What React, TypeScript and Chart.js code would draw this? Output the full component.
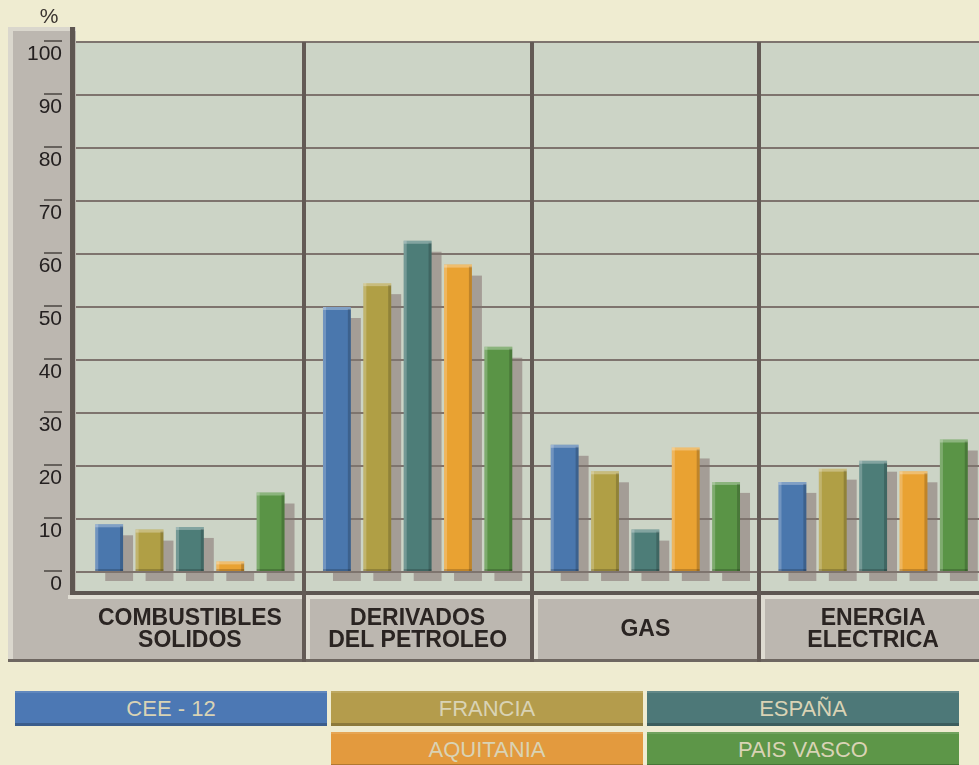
import React, { useEffect, useRef } from 'react';
import { Chart, registerables } from 'chart.js';

Chart.register(...registerables);

// ---------- data ----------
const CATEGORIES: string[][] = [
  ['COMBUSTIBLES', 'SOLIDOS'],
  ['DERIVADOS', 'DEL PETROLEO'],
  ['GAS'],
  ['ENERGIA', 'ELECTRICA'],
];
const SERIES_NAMES = ['CEE - 12', 'FRANCIA', 'ESPAÑA', 'AQUITANIA', 'PAIS VASCO'];
const CEE12 = [9, 50, 24, 17];
const FRANCIA = [8, 54.5, 19, 19.5];
const ESPANA = [8.5, 62.5, 8, 21];
const AQUITANIA = [2, 58, 23.5, 19];
const PAIS_VASCO = [15, 42.5, 17, 25];
const Y_MIN = 0;
const Y_MAX = 100;
const Y_STEP = 10;
const Y_UNIT = '%';

// ---------- styles ----------
const BAR_COLORS = ['#4a77ad', '#b09f45', '#4d7d78', '#e9a232', '#5a9446'];
const LEGEND_COLORS = ['#4c78b4', '#b49c4c', '#4d7878', '#e39a3e', '#5d9648'];
const FONT = "'Liberation Sans', Arial, sans-serif";

const panelPlugin = {
  id: 'panelPlugin',
  beforeDraw(chart: any) {
    const { ctx, chartArea: ca, scales } = chart;
    const y = scales.y;
    const base = y.getPixelForValue(0);
    const stripBottom = base + 20;
    const PB = 662;
    ctx.save();
    // gray left column and bottom band
    ctx.fillStyle = '#bcb7b0';
    ctx.fillRect(8, 27, ca.left - 8, PB - 27);
    ctx.fillRect(8, stripBottom + 3, ca.right - 8, PB - stripBottom - 3);
    // column highlights
    ctx.fillStyle = '#dad7cd';
    ctx.fillRect(8, 27, ca.left - 8, 4);
    ctx.fillRect(8, 27, 5, PB - 27);
    // plot background
    ctx.fillStyle = '#ccd4c6';
    ctx.fillRect(ca.left, ca.top, ca.right - ca.left, stripBottom - ca.top);
    // frame lines
    ctx.fillStyle = '#5e5651';
    ctx.fillRect(ca.left - 6, 27, 5, stripBottom + 3 - 27);
    ctx.fillRect(ca.left - 6, stripBottom - 1, ca.right - ca.left + 6, 4);
    // top bevel of label boxes
    ctx.fillStyle = '#e0ddd3';
    ctx.fillRect(ca.left - 8, stripBottom + 3, ca.right - ca.left + 8, 4);
    // bottom dark edge
    ctx.fillStyle = '#6e6761';
    ctx.fillRect(8, PB - 3, ca.right - 8, 3);

    // bar shadows
    ctx.fillStyle = '#a49d96';
    chart.data.datasets.forEach((_: any, di: number) => {
      const meta = chart.getDatasetMeta(di);
      meta.data.forEach((bar: any) => {
        const w = bar.width;
        const l = bar.x - w / 2 + 10;
        const t = Math.min(bar.y + 11, bar.base);
        ctx.fillRect(l, t, w, bar.base + 10 - t);
      });
    });
    ctx.restore();
  },
  afterDatasetsDraw(chart: any) {
    const { ctx, chartArea: ca, scales } = chart;
    const x = scales.x;
    const y = scales.y;
    const base = y.getPixelForValue(0);
    const stripBottom = base + 20;
    const PB = 662;
    ctx.save();
    // bar bevels
    chart.data.datasets.forEach((_: any, di: number) => {
      const meta = chart.getDatasetMeta(di);
      meta.data.forEach((bar: any) => {
        const w = bar.width;
        const l = bar.x - w / 2;
        const h = bar.base - bar.y;
        ctx.fillStyle = 'rgba(255,255,255,0.22)';
        ctx.fillRect(l, bar.y, 3, h);
        ctx.fillStyle = 'rgba(255,255,255,0.3)';
        ctx.fillRect(l, bar.y, w, Math.min(3, h));
        ctx.fillStyle = 'rgba(0,0,0,0.18)';
        ctx.fillRect(l + w - 3, bar.y + 2, 3, h - 2);
        ctx.fillRect(l, bar.base - 2, w, 2);
      });
    });
    // dividers
    const n = chart.data.labels.length;
    const half = (x.getPixelForValue(1) - x.getPixelForValue(0)) / 2;
    for (let i = 0; i < n - 1; i++) {
      const xd = Math.round(x.getPixelForValue(i) + half);
      ctx.fillStyle = '#635a55';
      ctx.fillRect(xd - 2, ca.top, 4, PB - ca.top);
      ctx.fillStyle = '#dedbd1';
      ctx.fillRect(xd + 2, stripBottom + 3, 4, PB - stripBottom - 6);
    }
    ctx.restore();
  },
  afterDraw(chart: any) {
    const { ctx, scales } = chart;
    const x = scales.x;
    const y = scales.y;
    const base = y.getPixelForValue(0);
    const stripBottom = base + 20;
    const PB = 662;
    ctx.save();
    // overlines on y ticks
    ctx.strokeStyle = '#4a4440';
    ctx.lineWidth = 1.5;
    y.ticks.forEach((t: any) => {
      const py = y.getPixelForValue(t.value) - 1;
      ctx.beginPath();
      ctx.moveTo(44, py);
      ctx.lineTo(62, py);
      ctx.stroke();
    });
    // unit
    ctx.fillStyle = '#3a3430';
    ctx.font = `21px ${FONT}`;
    ctx.textAlign = 'center';
    ctx.textBaseline = 'middle';
    ctx.fillText(Y_UNIT, 49, 17);
    // category labels
    ctx.fillStyle = '#2a2422';
    ctx.font = `bold 23px ${FONT}`;
    const cy = (stripBottom + 7 + PB - 3) / 2 + 1;
    chart.data.labels.forEach((lab: string[], i: number) => {
      const cx = x.getPixelForValue(i);
      const lh = 22;
      lab.forEach((line: string, j: number) => {
        ctx.fillText(line, cx, cy + (j - (lab.length - 1) / 2) * lh);
      });
    });
    ctx.restore();
  },
};

export default function App() {
  const ref = useRef<HTMLCanvasElement>(null);

  useEffect(() => {
    if (!ref.current) return;
    const series = [CEE12, FRANCIA, ESPANA, AQUITANIA, PAIS_VASCO];
    const chart = new Chart(ref.current, {
      type: 'bar',
      data: {
        labels: CATEGORIES as any,
        datasets: series.map((d, i) => ({
          label: SERIES_NAMES[i],
          data: d,
          backgroundColor: BAR_COLORS[i],
          borderWidth: 0,
          categoryPercentage: 0.886,
          barPercentage: 0.69,
        })),
      },
      options: {
        responsive: false,
        animation: false,
        devicePixelRatio: 1,
        layout: { padding: { top: 42, right: 13, left: 0, bottom: 98 } },
        plugins: { legend: { display: false }, tooltip: { enabled: false } },
        scales: {
          x: { display: false },
          y: {
            min: Y_MIN,
            max: Y_MAX,
            afterFit: (s: any) => {
              s.width = 76;
            },
            ticks: {
              stepSize: Y_STEP,
              padding: 14,
              color: '#242020',
              font: { family: FONT, size: 21, lineHeight: 1.14 },
              callback: (v: any) => ['', String(v)],
            },
            grid: { color: '#7e746e', lineWidth: 2, drawTicks: false },
            border: { display: false },
          },
        },
      },
      plugins: [panelPlugin],
    });
    return () => chart.destroy();
  }, []);

  return (
    <div
      style={{
        position: 'fixed',
        left: 0,
        top: 0,
        width: 979,
        height: 765,
        overflow: 'hidden',
        background: '#efecd1',
      }}
    >
      <canvas
        ref={ref}
        width={1000}
        height={670}
        style={{ position: 'absolute', left: 0, top: 0, display: 'block' }}
      />
      {SERIES_NAMES.map((name, i) => {
        const col = i < 3 ? i : i - 2;
        const row = i < 3 ? 0 : 1;
        return (
          <div
            key={name}
            style={{
              position: 'absolute',
              left: 15 + col * 316,
              top: 691 + row * 41,
              width: 312,
              height: 35,
              background: LEGEND_COLORS[i],
              color: '#d9d3b5',
              fontFamily: FONT,
              fontSize: 22,
              display: 'flex',
              alignItems: 'center',
              justifyContent: 'center',
              boxShadow: 'inset 0 -3px 0 rgba(0,0,0,0.22), inset 0 2px 0 rgba(255,255,255,0.12)',
            }}
          >
            {name}
          </div>
        );
      })}
    </div>
  );
}
